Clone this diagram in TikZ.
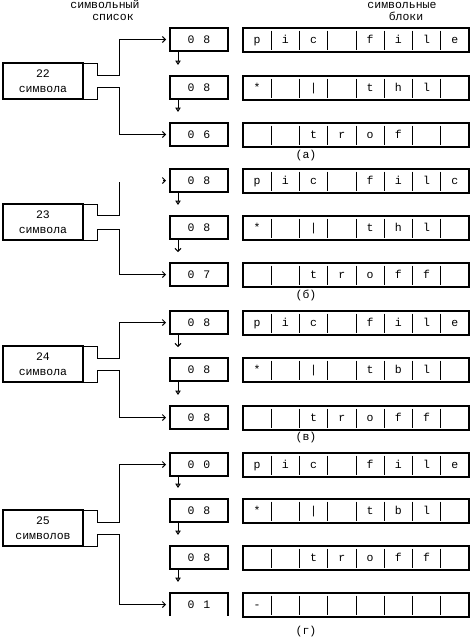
\documentclass[tikz,border=0pt]{standalone}
\usepackage{fontspec}
\setmainfont{Liberation Mono}
\usetikzlibrary{arrows.meta,calc}
\tikzset{
  every node/.style={inner sep=0pt, outer sep=0pt, font=\fontsize{11.5}{15}\selectfont},
  lst/.style={draw, line width=2pt, minimum width=58pt, minimum height=23pt},
  lstopen/.style={minimum width=58pt, minimum height=23pt},
  blk/.style={draw, line width=2.5pt, minimum width=226pt, minimum height=24pt},
  bigb/.style={draw, line width=2.5pt, minimum width=80pt, minimum height=36pt, align=center},
  conn/.style={line width=1pt, -{Straight Barb[length=3pt,width=6pt]}, shorten >=4pt},
  plain/.style={line width=1pt},
  vO/.style={line width=1pt, -{Triangle[open,length=4.5pt,width=5.5pt,line width=1pt]}, shorten >=11pt},
  vV/.style={line width=1pt, -{Straight Barb[length=3pt,width=6pt]}, shorten >=11pt},
  divl/.style={line width=1pt},
  celltxt/.style={anchor=base},
  lbl/.style={anchor=base}
}
\newcommand\blkrow[3]{%
  \node[blk, anchor=north west] (#1) at (243,#2) {};
  \foreach \k in {1,...,7} {\draw[divl] ({243+28.25*\k},{#2+2.5}) -- ({243+28.25*\k},{#2+21.5});}
  \foreach \c [count=\k] in {#3} {\node[celltxt] at ({243+28.25*\k-14.125},{#2+15.5}) {\c};}
}
\newcommand\lstbox[4]{%
  \node[lst, anchor=north west] (#1) at (170,#2) {#3\hspace{9pt}#4};
}
\begin{document}
\begin{tikzpicture}[x=1pt,y=-1pt]
\fill[white] (0,0) rectangle (475,637);
\useasboundingbox (0,0) rectangle (475,637);
% titles
\node[lbl] (t1) at (105,8.5) {символьный};
\node[lbl] (t2) at (113,20) {список};
\node[lbl] (t3) at (402,8.5) {символьные};
\node[lbl] (t4) at (406,20) {блоки};

% ---------- (a)
\lstbox{a1}{28}{0}{8}
\lstbox{a2}{76}{0}{8}
\lstbox{a3}{123}{0}{6}
\blkrow{ar1}{28}{p,i,c,{},f,i,l,e}
\blkrow{ar2}{76}{*,{},|,{},t,h,l,{}}
\blkrow{ar3}{123}{{},{},t,r,o,f,{},{}}
\node[bigb, anchor=north west] (a0) at (3,63) {22\\символа};
\draw[conn] (a0.north east) -| ++(14,12) -- ++(22,0) |- (a1.west);
\draw[conn] (a0.south east) -| ++(14,-12) -- ++(22,0) |- (a3.west);
\draw[vO] ([xshift=8pt]a1.south west) -- ([xshift=8pt]a2.north west);
\draw[vO] ([xshift=8pt]a2.south west) -- ([xshift=8pt]a3.north west);
\node[lbl] (la) at (306,158) {(а)};

% ---------- (b)
\lstbox{b1}{169}{0}{8}
\lstbox{b2}{216}{0}{8}
\lstbox{b3}{263}{0}{7}
\blkrow{br1}{169}{p,i,c,{},f,i,l,c}
\blkrow{br2}{216}{*,{},|,{},t,h,l,{}}
\blkrow{br3}{263}{{},{},t,r,o,f,f,{}}
\node[bigb, anchor=north west] (b0) at (3,204) {23\\символа};
\draw[plain] (b0.north east) -| ++(14,11) -- ++(22,0) -- ++(0,-33);
\coordinate (bt) at (163,180.5);
\draw[conn] (bt) -- (b1.west);
\draw[conn] (b0.south east) -| ++(14,-11) -- ++(22,0) |- (b3.west);
\draw[vO] ([xshift=8pt]b1.south west) -- ([xshift=8pt]b2.north west);
\draw[vV] ([xshift=8pt]b2.south west) -- ([xshift=8pt]b3.north west);
\node[lbl] (lb) at (306,298) {(б)};

% ---------- (c)
\lstbox{c1}{311}{0}{8}
\lstbox{c2}{358}{0}{8}
\lstbox{c3}{406}{0}{8}
\blkrow{cr1}{311}{p,i,c,{},f,i,l,e}
\blkrow{cr2}{358}{*,{},|,{},t,b,l,{}}
\blkrow{cr3}{406}{{},{},t,r,o,f,f,{}}
\node[bigb, anchor=north west] (c0) at (3,346) {24\\символа};
\draw[conn] (c0.north east) -| ++(14,12) -- ++(22,0) |- (c1.west);
\draw[conn] (c0.south east) -| ++(14,-12) -- ++(22,0) |- (c3.west);
\draw[vV] ([xshift=8pt]c1.south west) -- ([xshift=8pt]c2.north west);
\draw[vO] ([xshift=8pt]c2.south west) -- ([xshift=8pt]c3.north west);
\node[lbl] (lc) at (306,440) {(в)};

% ---------- (d)
\lstbox{d1}{453}{0}{0}
\lstbox{d2}{499}{0}{8}
\lstbox{d3}{546}{0}{8}
\node[lstopen, anchor=north west] (d4) at (170,593) {0\hspace{9pt}1};
\draw[line width=2pt] (d4.south west) -- (d4.north west) -- (d4.north east) -- (d4.south east);
\blkrow{dr1}{453}{p,i,c,{},f,i,l,e}
\blkrow{dr2}{499}{*,{},|,{},t,b,l,{}}
\blkrow{dr3}{546}{{},{},t,r,o,f,f,{}}
\blkrow{dr4}{593}{-,{},{},{},{},{},{},{}}
\node[bigb, anchor=north west] (d0) at (3,510) {25\\символов};
\draw[conn] (d0.north east) -| ++(14,12) -- ++(22,0) |- (d1.west);
\draw[conn] (d0.south east) -| ++(14,-12) -- ++(22,0) |- (d4.west);
\draw[vO] ([xshift=8pt]d1.south west) -- ([xshift=8pt]d2.north west);
\draw[vO] ([xshift=8pt]d2.south west) -- ([xshift=8pt]d3.north west);
\draw[vO] ([xshift=8pt]d3.south west) -- ([xshift=8pt]d4.north west);
\node[lbl] (ld) at (306,634) {(г)};
\end{tikzpicture}
\end{document}
